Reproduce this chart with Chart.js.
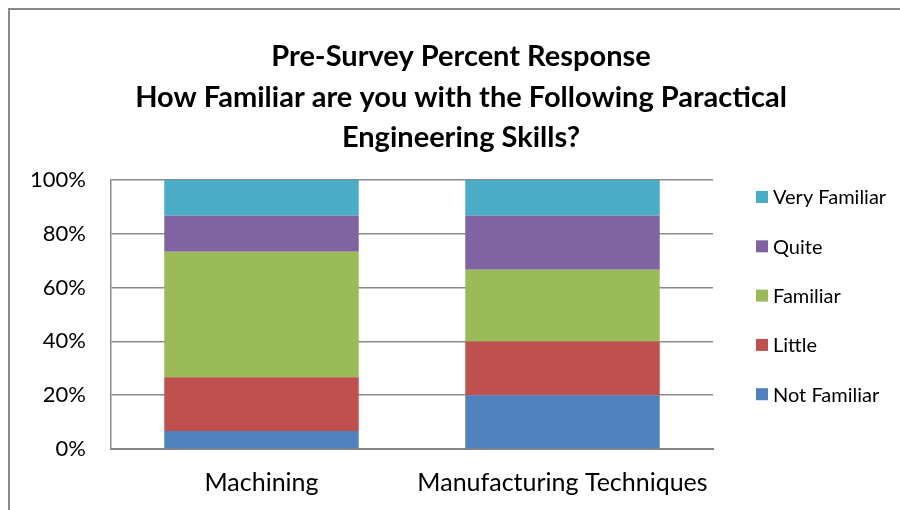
<!DOCTYPE html>
<html>
<head>
<meta charset="utf-8">
<script src="https://cdn.jsdelivr.net/npm/chart.js@4"></script>
<style>
  html, body { margin: 0; padding: 0; background: #fff; }
  #wrap { width: 900px; height: 510px; position: relative; }
</style>
</head>
<body>
<div id="wrap"><canvas id="c" width="900" height="510"></canvas></div>
<script>
// Survey categories and percent responses per familiarity level (bottom to top)
const categories = ['Machining', 'Manufacturing Techniques'];
const levels = ['Not Familiar', 'Little', 'Familiar', 'Quite', 'Very Familiar'];
const notFamiliar = [6.67, 20];
const little = [20, 20];
const familiar = [46.67, 26.67];
const quite = [13.33, 20];
const veryFamiliar = [13.33, 13.33];
const yTicks = [0, 20, 40, 60, 80, 100];
const titleLines = ['Pre-Survey Percent Response',
  'How Familiar are you with the Following Paractical',
  'Engineering Skills?'];

const colors = ['#4F81BD', '#C0504D', '#9BBB59', '#8064A2', '#4BACC6'];
const seriesValues = [notFamiliar, little, familiar, quite, veryFamiliar];
const FONT = 'Lato, "Open Sans", sans-serif';

// Outer frame, multi-line title and the right-hand legend
const decorations = {
  id: 'decorations',
  afterDraw(chart) {
    const ctx = chart.ctx;
    ctx.save();
    ctx.strokeStyle = '#8a8a8a';
    ctx.lineWidth = 2;
    ctx.beginPath();
    ctx.moveTo(9, 520);
    ctx.lineTo(9, 9);
    ctx.lineTo(920, 9);
    ctx.stroke();

    ctx.fillStyle = '#000';
    ctx.font = 'bold 29px ' + FONT;
    ctx.textAlign = 'center';
    ctx.textBaseline = 'alphabetic';
    titleLines.forEach((t, i) => ctx.fillText(t, 461, 66 + i * 40.5));

    ctx.font = '20px ' + FONT;
    ctx.textAlign = 'left';
    ctx.textBaseline = 'middle';
    const ds = chart.data.datasets;
    for (let k = ds.length - 1, row = 0; k >= 0; k--, row++) {
      const cy = 197 + row * 49.3;
      ctx.fillStyle = ds[k].backgroundColor;
      ctx.fillRect(756, cy - 6, 12, 12);
      ctx.fillStyle = '#000';
      ctx.fillText(ds[k].label, 773, cy + 1);
    }
    ctx.restore();
  }
};

new Chart(document.getElementById('c'), {
  type: 'bar',
  data: {
    labels: categories,
    datasets: levels.map((name, i) => ({
      label: name,
      data: seriesValues[i],
      backgroundColor: colors[i],
      borderWidth: 0,
      barPercentage: 0.646,
      categoryPercentage: 1
    }))
  },
  options: {
    responsive: false,
    animation: false,
    layout: { padding: { left: 11, top: 180, right: 187, bottom: 0 } },
    plugins: {
      legend: { display: false },
      title: { display: false },
      tooltip: { enabled: false }
    },
    scales: {
      x: {
        stacked: true,
        grid: { display: false, drawTicks: false },
        border: { display: true, color: '#868686', width: 2 },
        ticks: { color: '#000', font: { family: FONT, size: 25 }, padding: 19 },
        afterFit(scale) { scale.height = 61; }
      },
      y: {
        stacked: true,
        min: 0,
        max: 100,
        afterBuildTicks(scale) { scale.ticks = yTicks.map(v => ({ value: v })); },
        grid: { color: '#8c8c8c', lineWidth: 1.5, drawTicks: false },
        border: { display: true, color: '#8c8c8c', width: 1.5 },
        ticks: {
          color: '#000',
          font: { family: FONT, size: 22 },
          padding: 25,
          callback: v => v + '%'
        },
        afterFit(scale) { scale.width = 100; }
      }
    }
  },
  plugins: [decorations]
});
</script>
</body>
</html>
